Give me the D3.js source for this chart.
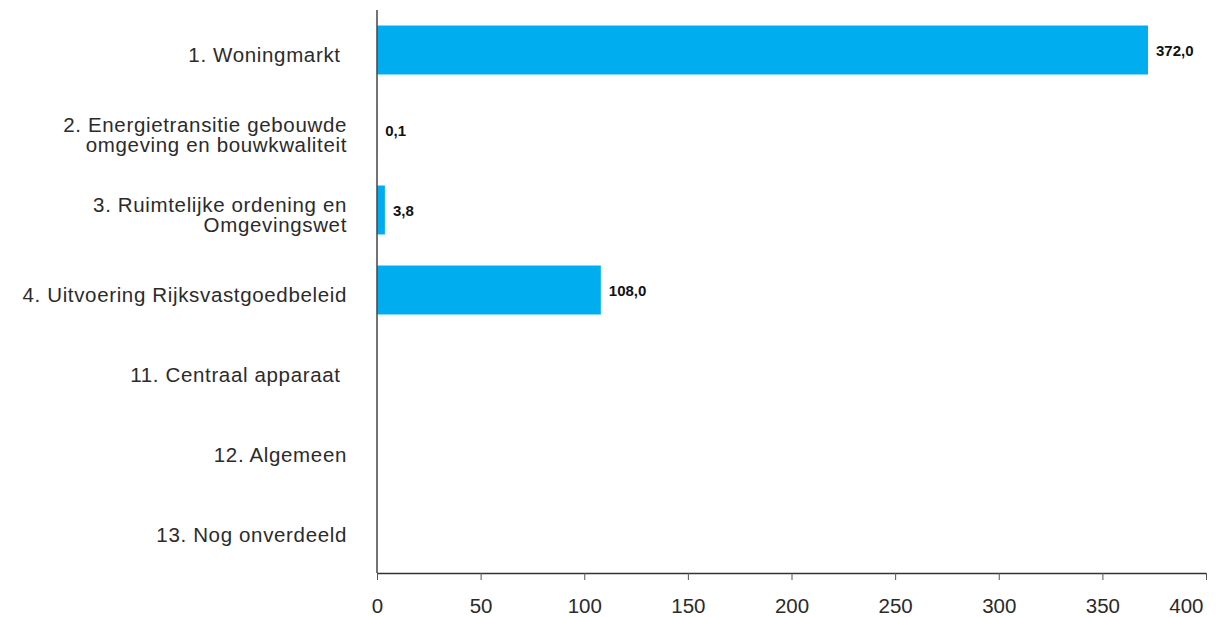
<!DOCTYPE html>
<html lang="nl">
<head>
<meta charset="utf-8">
<title>Uitgaven per artikel</title>
<script src="https://d3js.org/d3.v7.min.js"></script>
<style>
  body { margin: 0; background: #fff; }
  .cat text { font-family: "Liberation Sans", Arial, sans-serif; font-size: 20.5px; letter-spacing: 0.65px; fill: #2b2b2b; }
  .xaxis text { font-family: "Liberation Sans", Arial, sans-serif; font-size: 20.5px; fill: #2b2b2b; }
  .val { font-family: "Liberation Sans", Arial, sans-serif; font-size: 15px; font-weight: bold; fill: #111; }
</style>
</head>
<body>
<div id="chart"></div>
<script>
const categories = [
  "1. Woningmarkt ",
  "2. Energietransitie gebouwde|omgeving en bouwkwaliteit",
  "3. Ruimtelijke ordening en|Omgevingswet",
  "4. Uitvoering Rijksvastgoedbeleid",
  "11. Centraal apparaat ",
  "12. Algemeen",
  "13. Nog onverdeeld"
];
const values = [372.0, 0.1, 3.8, 108.0, null, null, null];
const valueLabels = ["372,0", "0,1", "3,8", "108,0", "", "", ""];
const xTicks = [0, 50, 100, 150, 200, 250, 300, 350, 400];

const width = 1216, height = 617;
const mLeft = 377, mRight = 1206, mTop = 10, mBottom = 570;

const svg = d3.select("#chart").append("svg")
  .attr("width", width).attr("height", height);

const x = d3.scaleLinear().domain([0, 400]).range([mLeft, mRight]);
const y = d3.scaleBand().domain(d3.range(categories.length))
  .range([mTop, mBottom])
  .paddingInner(0.3875)
  .paddingOuter(0.19375);

const rows = values.map((v, i) => ({v, i})).filter(d => d.v != null);

// bars
svg.append("g").selectAll("rect")
  .data(rows)
  .join("rect")
  .attr("x", x(0))
  .attr("y", d => y(d.i))
  .attr("width", d => x(d.v) - x(0))
  .attr("height", y.bandwidth())
  .attr("fill", "#00aeef");

// value labels
svg.append("g").selectAll("text")
  .data(rows)
  .join("text")
  .attr("class", "val")
  .attr("x", d => x(d.v) + 8)
  .attr("y", d => y(d.i) + y.bandwidth() / 2 + 1)
  .attr("dy", "0.35em")
  .text(d => valueLabels[d.i]);

// category labels
const cat = svg.append("g").attr("class", "cat");
categories.forEach((c, i) => {
  const lines = c.split("|");
  const cy = y(i) + y.bandwidth() / 2 + 5;
  const t = cat.append("text")
    .attr("x", 347)
    .attr("text-anchor", "end")
    .attr("xml:space", "preserve");
  lines.forEach((l, j) => {
    t.append("tspan")
      .attr("x", 347)
      .attr("y", cy + (j - (lines.length - 1) / 2) * 20.5)
      .attr("dy", "0.35em")
      .text(l);
  });
});

// x axis
const xAxis = d3.axisBottom(x).tickValues(xTicks).tickSize(7).tickPadding(18);
const gx = svg.append("g")
  .attr("class", "xaxis")
  .attr("transform", `translate(0,${mBottom + 3})`)
  .call(xAxis);
gx.select(".domain").attr("stroke", "#333").attr("stroke-width", 1.3)
  .attr("d", `M${mLeft},0.5H${mRight}`);
gx.selectAll(".tick line").attr("stroke", "#555");
gx.selectAll(".tick text").filter(d => d === 400)
  .attr("text-anchor", "end").attr("x", -3);

// y axis line
svg.append("line")
  .attr("x1", x(0)).attr("x2", x(0))
  .attr("y1", mTop).attr("y2", mBottom + 3)
  .attr("stroke", "#444").attr("stroke-width", 1.5);
</script>
</body>
</html>
